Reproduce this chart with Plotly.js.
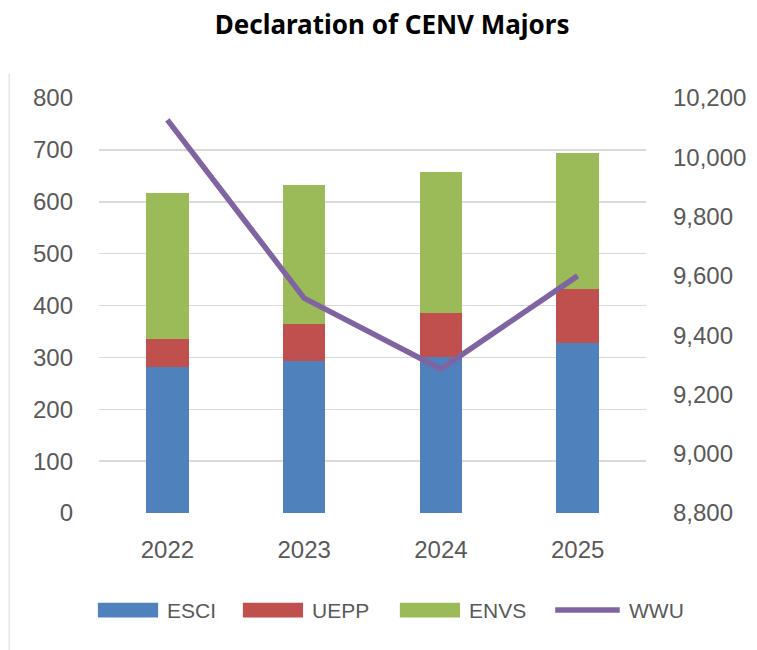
<!DOCTYPE html>
<html>
<head>
<meta charset="utf-8">
<script src="https://cdn.plot.ly/plotly-3.0.1.min.js"></script>
<style>html,body{margin:0;padding:0;background:#fff;}#chart{width:757px;height:650px;}</style>
</head>
<body>
<div id="chart"></div>
<script>
const years = ["2022", "2023", "2024", "2025"];
const esci = [281, 293, 300, 327];
const uepp = [54, 71, 85, 105];
const envs = [282, 268, 272, 262];
const wwu = [10126, 9525, 9286, 9600];

const seriesNames = ["ESCI", "UEPP", "ENVS", "WWU"];
const seriesColors = ["#4f81bd", "#c0504d", "#9bbb59", "#8064a2"];

const tickFont = {family: "Liberation Sans, Arial, sans-serif", size: 24, color: "#595959"};
const legendFont = {family: "Liberation Sans, Arial, sans-serif", size: 21, color: "#595959"};

const traces = [
  {type: "bar", name: seriesNames[0], x: years, y: esci, marker: {color: seriesColors[0]}},
  {type: "bar", name: seriesNames[1], x: years, y: uepp, marker: {color: seriesColors[1]}},
  {type: "bar", name: seriesNames[2], x: years, y: envs, marker: {color: seriesColors[2]}},
  {type: "scatter", mode: "lines", name: seriesNames[3], x: years, y: wwu, yaxis: "y2",
   line: {color: seriesColors[3], width: 5.5}}
];

// custom legend (wide swatches like the original)
const legX = [-0.002, 0.263, 0.550, 0.834];
const swW = 0.110;
const legY = -0.234;
const shapes = [{type: "line", xref: "paper", yref: "paper", x0: -0.164, x1: -0.164, y0: -0.34, y1: 1.058,
            line: {color: "#e6e6e6", width: 1.5}, layer: "below"}];
const annotations = [];
seriesNames.forEach((n, i) => {
  if (i < 3) {
    shapes.push({type: "rect", xref: "paper", yref: "paper", x0: legX[i], x1: legX[i] + swW,
                 y0: legY - 0.018, y1: legY + 0.018, fillcolor: seriesColors[i], line: {width: 0}});
  } else {
    shapes.push({type: "line", xref: "paper", yref: "paper", x0: legX[i], x1: legX[i] + swW + 0.008,
                 y0: legY, y1: legY, line: {color: seriesColors[i], width: 5.5}});
  }
  annotations.push({xref: "paper", yref: "paper", x: legX[i] + swW + 0.013 + (i === 3 ? 0.008 : 0), y: legY,
                    xanchor: "left", yanchor: "middle", text: n, showarrow: false, font: legendFont});
});

const layout = {
  width: 757, height: 650,
  paper_bgcolor: "#ffffff", plot_bgcolor: "rgba(0,0,0,0)",
  margin: {l: 99, r: 111, t: 98, b: 137},
  barmode: "stack", bargap: 0.69,
  title: {text: "<b>Declaration of CENV Majors</b>", x: 0.518, xanchor: "center", y: 0.962, yanchor: "middle",
          font: {family: "Noto Sans, Open Sans, sans-serif", size: 26, color: "#000"}},
  xaxis: {type: "category", tickfont: tickFont, showgrid: false, zeroline: false, showline: false, ticks: "", ticklabelstandoff: 20},
  yaxis: {range: [0, 800], dtick: 100, tickfont: tickFont, gridcolor: "#d9d9d9", gridwidth: 1.5, zeroline: false,
          showline: false, ticks: "", ticklabelstandoff: 25},
  yaxis2: {overlaying: "y", side: "right", range: [8800, 10200], dtick: 200, tickformat: ",", tickfont: tickFont,
           showgrid: false, zeroline: false, showline: false, ticks: "", ticklabelstandoff: 26},
  separators: ".,",
  showlegend: false,
  shapes: shapes,
  annotations: annotations
};

Plotly.newPlot("chart", traces, layout, {displayModeBar: false, staticPlot: true});
</script>
</body>
</html>
